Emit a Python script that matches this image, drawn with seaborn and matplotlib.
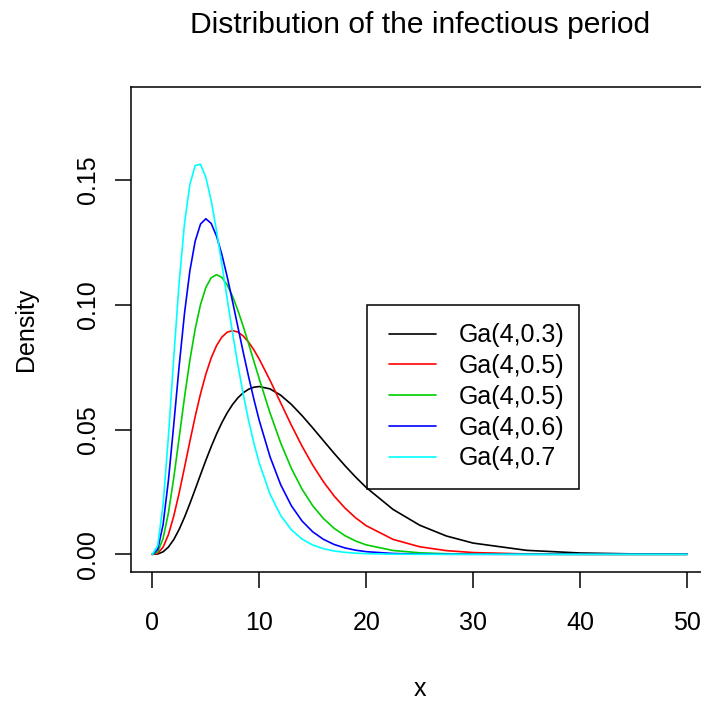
import matplotlib
matplotlib.use("Agg")
import matplotlib.pyplot as plt
import numpy as np
import pandas as pd
import seaborn as sns
from matplotlib.patches import Rectangle

# Evaluation grid for the infectious-period densities
x_grid = [0, 0.5, 1, 1.5, 2, 2.5, 3, 3.5, 4, 4.5, 5, 5.5, 6, 6.5, 7, 7.5, 8, 8.5, 9, 9.5, 10,
          11, 12, 13, 14, 15, 16, 17, 18, 19, 20,
          22.5, 25, 27.5, 30, 35, 40, 45, 50]

# Gamma(shape 4) densities, one list per rate
dens_r03 = [0, 0.000145, 0.001000, 0.002905, 0.005927, 0.009965, 0.014821, 0.020253, 0.026024,
            0.031887, 0.037648, 0.043124, 0.048202, 0.052757, 0.056705, 0.060029, 0.062705,
            0.064733, 0.066145, 0.066948, 0.067213,
            0.066274, 0.063741, 0.060037, 0.055551, 0.050615, 0.045507, 0.040437, 0.035560,
            0.030983, 0.026770,
            0.018005, 0.011666, 0.007335, 0.004498, 0.001594, 0.000531, 0.000169, 0.000052]
dens_r04 = [0, 0.000437, 0.002860, 0.007903, 0.015337, 0.024525, 0.034698, 0.045111, 0.055132,
            0.064269, 0.072179, 0.078655, 0.083607, 0.087029, 0.088993, 0.089617, 0.089046,
            0.087446, 0.084989, 0.081836, 0.078149,
            0.069720, 0.060676, 0.051711, 0.043294, 0.035694, 0.029039, 0.023347, 0.018577,
            0.014646, 0.011451,
            0.005998, 0.003027, 0.001482, 0.000708, 0.000152, 0.000031, 0.000006, 0.000001]
dens_r05 = [0, 0.001014, 0.006318, 0.016608, 0.030657, 0.046631, 0.062747, 0.077608, 0.090223,
            0.100048, 0.106882, 0.110792, 0.112021, 0.110920, 0.107892, 0.103351, 0.097686,
            0.091248, 0.084359, 0.077268, 0.070187,
            0.056662, 0.044618, 0.034406, 0.026064, 0.019444, 0.014313, 0.010413, 0.007498,
            0.005348, 0.003783,
            0.001543, 0.000607, 0.000231, 0.000086, 0.000011, 0.000001, 0.0000002, 0.0]
dens_r06 = [0, 0.002000, 0.011854, 0.029641, 0.052047, 0.075296, 0.096403, 0.113410, 0.125411,
            0.132289, 0.134425, 0.132547, 0.127483, 0.120074, 0.111102, 0.101231, 0.091014,
            0.080873, 0.071120, 0.061966, 0.053541,
            0.039111, 0.027866, 0.019444, 0.013328, 0.008997, 0.005992, 0.003945, 0.002570,
            0.001659, 0.001062,
            0.000337, 0.000103, 0.000031, 0.000009, 0.000001, 0.0, 0.0, 0.0]
dens_r07 = [0, 0.003525, 0.019872, 0.047256, 0.078945, 0.108652, 0.132312, 0.148056, 0.155738,
            0.156261, 0.151048, 0.141678, 0.129619, 0.116127, 0.102211, 0.088589, 0.075764,
            0.064038, 0.053569, 0.044396, 0.036490,
            0.024118, 0.015549, 0.009818, 0.006089, 0.003719, 0.002247, 0.001336, 0.000787,
            0.000459, 0.000266,
            0.000066, 0.000016, 0.000004, 0.000001, 0.0, 0.0, 0.0, 0.0]

series_labels = ["Ga(4,0.3)", "Ga(4,0.5)", "Ga(4,0.5)", "Ga(4,0.6)", "Ga(4,0.7"]
series_keys = ["r0.3", "r0.4", "r0.5", "r0.6", "r0.7"]
series_colors = ["#000000", "#FF0000", "#00CD00", "#0000FF", "#00FFFF"]

x_ticks = [0, 10, 20, 30, 40, 50]
y_ticks = [0.00, 0.05, 0.10, 0.15]
y_tick_labels = ["0.00", "0.05", "0.10", "0.15"]

frames = []
for key, vals in zip(series_keys, [dens_r03, dens_r04, dens_r05, dens_r06, dens_r07]):
    frames.append(pd.DataFrame({"x": x_grid, "density": vals, "dist": key}))
df = pd.concat(frames, ignore_index=True)

sns.set_theme(style="white")
plt.rcParams["font.family"] = ["Liberation Sans", "DejaVu Sans"]

W, H = 701, 702
fig = plt.figure(figsize=(W / 100, H / 100), dpi=100)
left, right, top, bottom = 131, 708.4, 87, 572.3
ax = fig.add_axes([left / W, 1 - bottom / H, (right - left) / W, (bottom - top) / H])

sns.lineplot(data=df, x="x", y="density", hue="dist", hue_order=series_keys,
             palette=dict(zip(series_keys, series_colors)), sort=False,
             estimator=None, linewidth=1.2, legend=False, ax=ax)

ax.set_xlim(-2, 52)
ax.set_ylim(-0.0072, 0.1872)
ax.set_xticks(x_ticks)
ax.set_xticklabels([str(t) for t in x_ticks])
ax.set_yticks(y_ticks)
ax.set_yticklabels(y_tick_labels, rotation=90, va="center")

for s in ax.spines.values():
    s.set_color("black")
    s.set_linewidth(1.1)

ax.tick_params(axis="both", direction="out", length=11.5, width=1.1, color="black",
               labelsize=18, labelcolor="black")
ax.tick_params(axis="x", pad=16.3, bottom=True)
ax.tick_params(axis="y", pad=10.6, left=True)

ax.set_xlabel("x", fontsize=18, color="black", va="center")
ax.xaxis.set_label_coords(0.5, (bottom - 688.5) / (bottom - top))
ax.set_ylabel("Density", fontsize=18, color="black", va="center", ha="center")
ax.yaxis.set_label_coords((25.5 - left) / (right - left), 0.5)

fig.text((left + right) / 2 / W, 1 - 33.3 / H, "Distribution of the infectious period",
         ha="center", va="baseline", fontsize=21.6, color="black")

# Legend: entries drawn without a frame, box added separately
handles = ax.get_lines()[:5]
leg = ax.legend(handles, series_labels, loc="center left",
                bbox_to_anchor=(389 / W, 1 - 396.9 / H), bbox_transform=fig.transFigure,
                frameon=False, borderpad=0, borderaxespad=0, fontsize=18,
                handlelength=1.88, handletextpad=0.92, labelspacing=0.27)
for t in leg.get_texts():
    t.set_color("black")
fig.patches.append(Rectangle((366.7 / W, 1 - 489 / H), (579 - 366.7) / W, (489 - 305) / H,
                             transform=fig.transFigure, fill=False, edgecolor="black",
                             linewidth=1.1, zorder=5))

fig.savefig("out.png", dpi=100)
